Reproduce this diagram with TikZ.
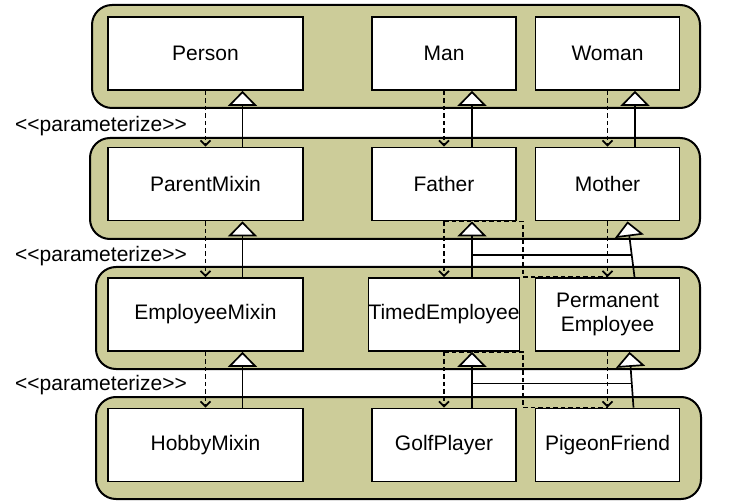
\documentclass[tikz,border=0pt]{standalone}
\usepackage{fontspec}
\setmainfont{Liberation Sans}
\usetikzlibrary{arrows.meta}
\definecolor{mixbg}{RGB}{204,204,153}
\begin{document}
\begin{tikzpicture}[x=1pt,y=-1pt,
    layer/.style={draw=black,line width=2pt,fill=mixbg,rounded corners=20pt},
    cls/.style={draw=black,line width=1.8pt,fill=white,minimum height=73pt,
      inner sep=0pt,align=center,font=\fontsize{21}{24}\selectfont},
    wide/.style={cls,minimum width=195pt},
    narrow/.style={cls,minimum width=144pt},
    param/.style={line width=1.7pt,dash pattern=on 4.5pt off 3pt,
      -{Straight Barb[length=5pt,width=10pt]}},
    paramline/.style={line width=1.7pt,dash pattern=on 4.5pt off 3pt},
    inherit/.style={line width=1.7pt,
      -{Triangle[open,length=15pt,width=29pt,fill=white]}},
    joinline/.style={line width=1.7pt},
    stereo/.style={anchor=west,inner sep=0pt,font=\fontsize{21}{24}\selectfont}]
  \useasboundingbox (0,0) rectangle (743,502);
  % layers
  \draw[layer] (92,5) rectangle (700,108);
  \draw[layer] (90,138) rectangle (700,239);
  \draw[layer] (96,267) rectangle (700,369);
  \draw[layer] (96,397) rectangle (701,499);
  % classes
  \node[wide] (person) at (205.5,53.5) {Person};
  \node[narrow] (man) at (444,53.5) {Man};
  \node[narrow] (woman) at (607.5,53.5) {Woman};
  \node[wide] (parentmixin) at (205.5,184) {ParentMixin};
  \node[narrow] (father) at (444,184) {Father};
  \node[narrow] (mother) at (607.5,184) {Mother};
  \node[wide] (employeemixin) at (205.5,314.5) {EmployeeMixin};
  \node[narrow] (timed) at (444,314.5) {TimedEmployee};
  \node[narrow] (permanent) at (607.5,314.5) {Permanent\\Employee};
  \node[wide] (hobbymixin) at (205.5,445) {HobbyMixin};
  \node[narrow] (golf) at (444,445) {GolfPlayer};
  \node[narrow] (pigeon) at (607.5,445) {PigeonFriend};
  % stereotypes
  \node[stereo] (p1) at (15,126) {<\kern0pt<parameterize>\kern0pt>};
  \node[stereo] (p2) at (15,256) {<\kern0pt<parameterize>\kern0pt>};
  \node[stereo] (p3) at (15,385) {<\kern0pt<parameterize>\kern0pt>};
  % parameterize
  \draw[param] (person.south) -- (parentmixin.north);
  \draw[param] (man.south) -- (father.north);
  \draw[param] (woman.south) -- (mother.north);
  \draw[param] (parentmixin.south) -- (employeemixin.north);
  \draw[param] (father.south) -- (timed.north);
  \draw[param] (mother.south) -- (permanent.north);
  \draw[param] (employeemixin.south) -- (hobbymixin.north);
  \draw[param] (timed.south) -- (golf.north);
  \draw[param] (permanent.south) -- (pigeon.north);
  \draw[paramline] (father.south) -| ([xshift=-84.5pt]permanent.north) -- (permanent.north);
  \draw[paramline] (timed.south) -| ([xshift=-84.5pt]pigeon.north) -- (pigeon.north);
  % inheritance
  \draw[inherit] ([xshift=37pt]parentmixin.north) -- ([xshift=37pt]person.south);
  \draw[inherit] ([xshift=28pt]father.north) -- ([xshift=28pt]man.south);
  \draw[inherit] ([xshift=27.5pt]mother.north) -- ([xshift=27.5pt]woman.south);
  \draw[inherit] ([xshift=37pt]employeemixin.north) -- ([xshift=37pt]parentmixin.south);
  \draw[inherit] ([xshift=28pt]timed.north) -- ([xshift=28pt]father.south);
  \draw[inherit] ([xshift=27pt]permanent.north) -- ([xshift=20pt]mother.south);
  \draw[inherit] ([xshift=37pt]hobbymixin.north) -- ([xshift=37pt]employeemixin.south);
  \draw[inherit] ([xshift=28pt]golf.north) -- ([xshift=28pt]timed.south);
  \draw[inherit] ([xshift=26pt]pigeon.north) -- ([xshift=22pt]permanent.south);
  \draw[joinline] ([xshift=28pt,yshift=22pt]timed.north) -- ([xshift=23pt,yshift=22pt]permanent.north);
  \draw[joinline] ([xshift=28pt,yshift=24pt]golf.north) -- ([xshift=23pt,yshift=24pt]pigeon.north);
\end{tikzpicture}
\end{document}
